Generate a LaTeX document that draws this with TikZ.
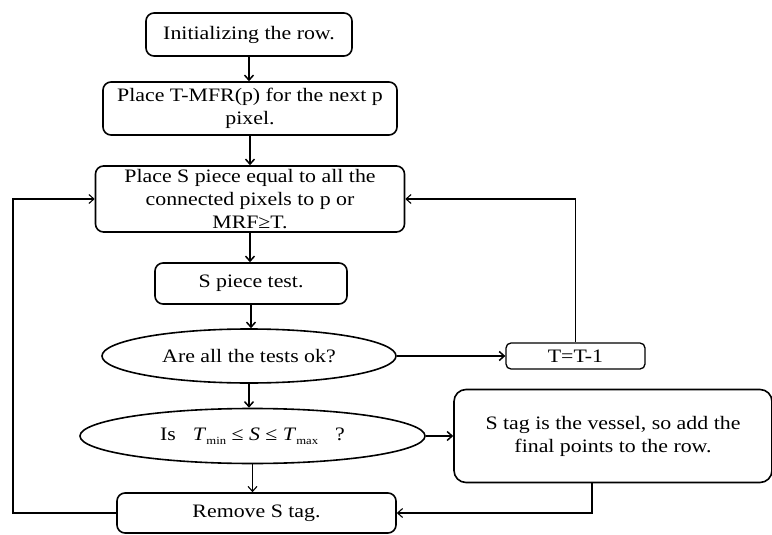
\documentclass[tikz,border=0pt]{standalone}
\usepackage{fontspec}
\setmainfont{Liberation Serif}[FakeStretch=1.15]
\usetikzlibrary{shapes.geometric,arrows.meta}
\newcommand{\lowidx}[1]{\raisebox{-0.45ex}{\fontsize{11}{11}\selectfont #1}}

\begin{document}
\begin{tikzpicture}[x=1pt,y=-1pt,
    box/.style={draw,line width=1.6pt,rounded corners=8pt,align=center,inner sep=0pt},
    oval/.style={draw,ellipse,line width=1.6pt,inner sep=0pt,align=center},
    flow/.style={line width=1.5pt,-{Straight Barb[length=5pt,width=9pt]}},
    back/.style={flow,line width=1.1pt},
    every node/.style={font=\fontsize{19}{23}\selectfont}
    ]
  \useasboundingbox (0,0) rectangle (772,535);
  % main column
  \node[box,minimum width=206,minimum height=43] (init) at (249,34.5) {Initializing the row.};
  \node[box,minimum width=294,minimum height=53] (place) at (250,108.5) {Place T-MFR(p) for the next p\\pixel.};
  \node[box,minimum width=309,minimum height=66] (piece) at (250,199) {Place S piece equal to all the\\connected pixels to p or\\MRF≥T.};
  \node[box,minimum width=192,minimum height=41] (test) at (251,283.5) {S piece test.};
  \node[oval,minimum width=294,minimum height=54] (allok) at (249,356) {Are all the tests ok?};
  \node[oval,minimum width=345,minimum height=55] (range) at (252.5,436) {Is\hspace{0.9em}\textit{T}\lowidx{min} ≤ \textit{S} ≤ \textit{T}\lowidx{max}\hspace{0.9em}?};
  \node[box,minimum width=279,minimum height=40] (remove) at (256.5,513) {Remove S tag.};
  % right side
  \node[box,line width=1.3pt,rounded corners=5pt,minimum width=139,minimum height=26] (tdec) at (575.5,356) {T=T-1};
  \node[box,rounded corners=12pt,minimum width=318,minimum height=93] (vessel) at (613,436) {S tag is the vessel, so add the\\final points to the row.};
  \coordinate (loopL) at (13,513);

  \draw[flow] (init) -- (init.south |- place.north);
  \draw[flow] (place.south) -- (place.south |- piece.north);
  \draw[flow] (piece.south) -- (piece.south |- test.north);
  \draw[flow] (test.south) -- (test.south |- allok.north);
  \draw[flow] (allok.south) -- (allok.south |- range.north);
  \draw[back] (range.south) -- (range.south |- remove.north);
  \draw[flow] (allok.east) -- (tdec.west);
  \draw[flow] (range.east) -- (vessel.west);
  \draw[back] (tdec.north) |- (piece.east);
  \draw[back] ([xshift=-21pt]vessel.south) |- (remove.east);
  \draw[back] (remove.west) -- (loopL) |- (piece.west);
\end{tikzpicture}
\end{document}
